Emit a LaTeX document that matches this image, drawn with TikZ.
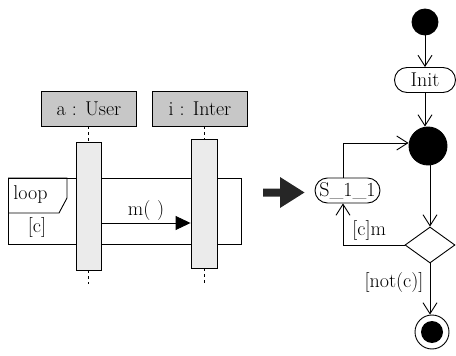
\documentclass[tikz,border=0pt]{standalone}
\usetikzlibrary{shapes.geometric,arrows.meta}
\begin{document}
\begin{tikzpicture}[x=1pt,y=-1pt,
  font=\fontsize{20}{24}\selectfont,
  line width=0.9pt,
  obj/.style={draw, fill=black!22, minimum width=95pt, minimum height=35pt, inner sep=0pt},
  actbox/.style={draw, fill=black!8, minimum width=25pt, inner sep=0pt},
  life/.style={dash pattern=on 3pt off 3pt},
  stadium/.style={draw, rounded corners=12.5pt, minimum height=25pt, inner sep=0pt},
  open/.style={-{Straight Barb[length=11pt,width=14pt,line width=0.9pt]}},
  dot/.style={circle, fill, draw, inner sep=0pt}]
\useasboundingbox (0,0) rectangle (456,356);

% ---- sequence diagram ----
\node[obj] (a) at (89,108.5) {a : User};
\node[obj] (i) at (200,108.5) {i : Inter};

\node[draw, anchor=north west, minimum width=233pt, minimum height=66pt, inner sep=0pt] (frame) at (8,178) {};
\draw (frame.north west) -| (67,198) -- (59,213) -- (frame.west |- 0,213);
\node[anchor=west, inner sep=0pt] (looplbl) at (13,195) {loop};
\node[inner sep=0pt] (cond) at (37,227) {[c]};

\node[actbox, minimum height=128pt] (acta) at (88.5,206) {};
\node[actbox, minimum width=26pt, minimum height=129pt] (acti) at (204,203.5) {};

\coordinate (enda) at (88.5,284);
\coordinate (endi) at (204,284);
\draw[life] (a.south -| acta.north) -- (acta.north);
\draw[life] (acta.south) -- (enda);
\draw[life] (i.south -| acti.north) -- (acti.north);
\draw[life] (acti.south) -- (endi);

\draw[-{Triangle[length=15pt,width=14pt]}] (acta.east |- 0,223) -- (acti.west |- 0,223)
  node[midway, above=2pt, inner sep=0pt] (mlbl) {m(\,\,)};

% ---- big arrow ----
\fill[black!85] (263,188.5) -- (280,188.5) -- (280,177) -- (304.5,192.5) -- (280,208) -- (280,196.5) -- (263,196.5) -- cycle;

% ---- activity diagram ----
\node[dot, minimum size=26pt] (start) at (425,22) {};
\node[stadium, minimum width=61pt] (init) at (425,80) {Init};
\node[dot, minimum size=38pt] (merge) at (428,146) {};
\node[draw, diamond, minimum width=50pt, minimum height=36pt, inner sep=0pt] (dia) at (430,245) {};
\node[stadium, minimum width=65pt] (s11) at (347.5,190.5) {S\_1\_1};
\node[circle, draw, minimum size=34pt, inner sep=0pt] (fin) at (432,332) {};
\fill (fin.center) circle (11pt);

\draw[open] (start) -- (init);
\draw[open] (init.south) -- (init.south |- merge.north);
\draw[open] (merge.south -| dia.north) -- (dia.north);
\draw[open] (dia.west) -| ([xshift=-4.5pt]s11.south);
\node[anchor=west, inner sep=0pt] (cm) at (352,230) {[c]m};
\draw[open] ([xshift=-4.5pt]s11.north) |- ([yshift=3pt]merge.west);
\draw[open] (dia.south) -- (dia.south |- fin.north);
\node[inner sep=0pt] (notc) at (394,283) {[not(c)]};
\end{tikzpicture}
\end{document}
